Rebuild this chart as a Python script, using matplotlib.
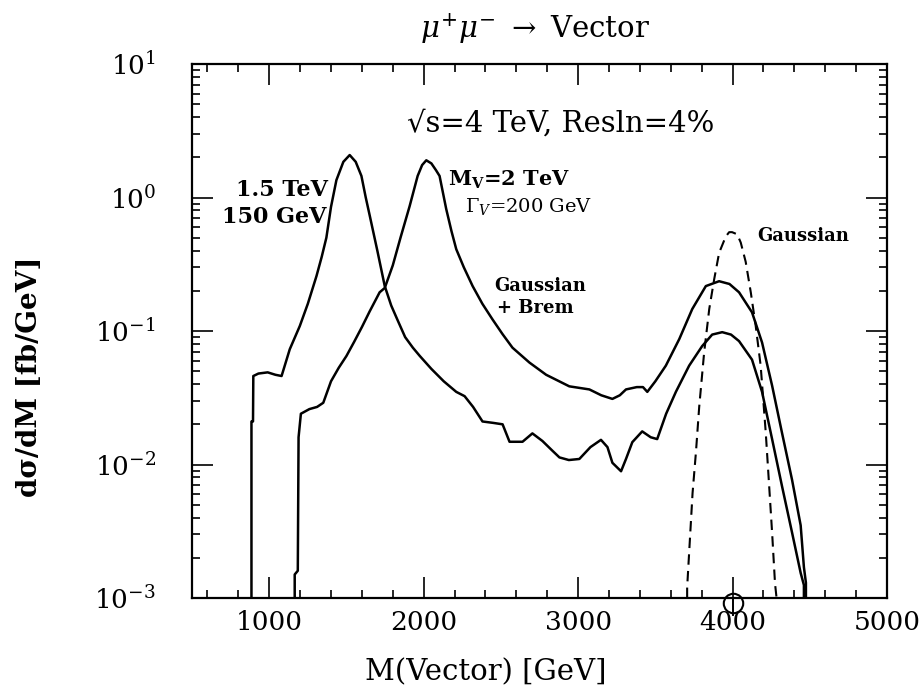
import matplotlib
matplotlib.use("Agg")
import matplotlib.pyplot as plt

plt.rcParams['font.family'] = ['DejaVu Serif']
plt.rcParams['mathtext.fontset'] = 'dejavuserif'

# M_V = 1.5 TeV, Gamma = 150 GeV (Gaussian + Brem)
m15 = [885, 885, 895, 897, 930, 990, 1040, 1080, 1133, 1198, 1250, 1306, 1340, 1370,
       1400, 1435, 1480, 1521, 1560, 1597, 1625, 1651, 1700, 1748, 1790, 1832, 1880,
       1930, 1975, 2050, 2130, 2211, 2265, 2320, 2381, 2450, 2511, 2556, 2640, 2704,
       2769, 2830, 2879, 2940, 3008, 3080, 3148, 3190, 3222, 3278, 3310, 3351, 3415,
       3470, 3512, 3570, 3633, 3719, 3803, 3868, 3933, 3990, 4042, 4126, 4191, 4256,
       4320, 4385, 4441, 4462, 4462]
s15 = [0.001, 0.021, 0.021, 0.046, 0.048, 0.049, 0.047, 0.046, 0.073, 0.109, 0.16, 0.258,
       0.36, 0.5, 0.85, 1.35, 1.85, 2.08, 1.85, 1.45, 1.0, 0.73, 0.40, 0.217, 0.155, 0.12,
       0.09, 0.075, 0.065, 0.052, 0.042, 0.035, 0.0325, 0.027, 0.021, 0.0205, 0.020,
       0.0148, 0.0148, 0.0171, 0.0150, 0.0128, 0.0113, 0.0108, 0.0110, 0.0135, 0.0153,
       0.0135, 0.0103, 0.0089, 0.011, 0.0147, 0.0177, 0.0160, 0.0155, 0.024, 0.035,
       0.055, 0.077, 0.094, 0.098, 0.094, 0.084, 0.061, 0.035, 0.0155, 0.0069, 0.0031,
       0.00154, 0.00125, 0.001]

# M_V = 2 TeV, Gamma = 200 GeV (Gaussian + Brem)
m20 = [1165, 1165, 1185, 1190, 1205, 1260, 1310, 1350, 1400, 1450, 1500, 1550, 1600,
       1650, 1715, 1748, 1800, 1850, 1909, 1961, 1990, 2017, 2050, 2080, 2103, 2146,
       2180, 2211, 2260, 2317, 2380, 2446, 2510, 2575, 2685, 2793, 2943, 3073, 3150,
       3222, 3270, 3310, 3380, 3420, 3448, 3500, 3568, 3655, 3739, 3827, 3913, 3980,
       4042, 4126, 4191, 4256, 4320, 4385, 4441, 4462, 4475, 4475]
s20 = [0.001, 0.0015, 0.0016, 0.016, 0.024, 0.026, 0.027, 0.029, 0.042, 0.053, 0.065,
       0.083, 0.107, 0.14, 0.195, 0.21, 0.31, 0.5, 0.86, 1.45, 1.75, 1.9, 1.8, 1.6, 1.45,
       0.82, 0.56, 0.41, 0.3, 0.217, 0.16, 0.122, 0.095, 0.075, 0.058, 0.047, 0.0385,
       0.0365, 0.033, 0.031, 0.033, 0.0365, 0.038, 0.038, 0.035, 0.042, 0.055, 0.087,
       0.146, 0.217, 0.236, 0.225, 0.195, 0.138, 0.082, 0.039, 0.0173, 0.0077, 0.0035,
       0.0017, 0.0013, 0.001]

# pure Gaussian resolution, dashed
mg = [3706, 3706, 3741, 3763, 3784, 3816, 3849, 3881, 3913, 3956, 3978, 3997, 4030,
      4053, 4085, 4118, 4150, 4182, 4215, 4236, 4256, 4275, 4285]
sg = [0.001, 0.0012, 0.0061, 0.0124, 0.027, 0.069, 0.146, 0.244, 0.385, 0.51, 0.55,
      0.55, 0.53, 0.46, 0.33, 0.195, 0.109, 0.055, 0.0173, 0.0072, 0.0031, 0.00128, 0.001]

xticks = [1000, 2000, 3000, 4000, 5000]
yticks = [1e-3, 1e-2, 1e-1, 1e0, 1e1]
ylabels = [r'$10^{-3}$', r'$10^{-2}$', r'$10^{-1}$', r'$10^{0}$', r'$10^{1}$']

fig = plt.figure(figsize=(9.23, 6.98), dpi=100)
ax = fig.add_axes([192/923, 1-598/698, (887-192)/923, (598-64)/698])

ax.plot(m15, s15, color='black', lw=1.8)
ax.plot(m20, s20, color='black', lw=1.8)
ax.plot(mg, sg, color='black', lw=1.5, linestyle=(0, (5, 3)))

# little circled marker at sqrt(s)
ax.plot([4000], [9.2e-4], marker='o', ms=14, mfc='none', mec='black', mew=1.5, clip_on=False)
ax.plot([4000, 4000], [7.5e-4, 1e-3], color='black', lw=1.4, clip_on=False)

ax.set_yscale('log')
ax.set_xlim(500, 5000)
ax.set_ylim(1e-3, 1e1)

ax.set_xticks(xticks)
ax.set_xticks(range(600, 5000, 200), minor=True)
ax.set_yticks(yticks, ylabels)
ax.tick_params(which='both', direction='in', top=True, right=True, width=1.2)
ax.tick_params(which='major', length=15)
ax.tick_params(which='minor', length=6)
ax.tick_params(axis='x', labelsize=19, pad=9)
ax.tick_params(axis='y', labelsize=19, pad=26)
for sp in ax.spines.values():
    sp.set_linewidth(1.6)

# annotations
ax.text(2886, 3.55, '√s=4 TeV, Resln=4%', fontsize=21, ha='center', va='center')
ax.text(1379, 1.14, '1.5 TeV', fontsize=16, weight='bold', ha='right', va='center')
ax.text(1373, 0.715, '150 GeV', fontsize=16, weight='bold', ha='right', va='center')
ax.text(2155, 1.35, r'M$_{\mathbf{V}}$=2 TeV', fontsize=15, weight='bold', ha='left', va='center')
ax.text(2265, 0.85, r'$\Gamma_{V}$=200 GeV', fontsize=14, ha='left', va='center')
ax.text(2459, 0.217, 'Gaussian', fontsize=13, weight='bold', ha='left', va='center')
ax.text(2472, 0.149, '+ Brem', fontsize=13, weight='bold', ha='left', va='center')
ax.text(4159, 0.515, 'Gaussian', fontsize=13, weight='bold', ha='left', va='center')

fig.text(535/923, 1-29/698, r'$\mu^{+}\mu^{-}$ $\rightarrow$ Vector', fontsize=21,
         ha='center', va='center')
fig.text(486/923, 1-672/698, 'M(Vector) [GeV]', fontsize=21, ha='center', va='center')
fig.text(30/923, 1-377/698, 'dσ/dM [fb/GeV]', fontsize=20, weight='bold',
         rotation=90, ha='center', va='center')

fig.savefig('out.png', dpi=100)
